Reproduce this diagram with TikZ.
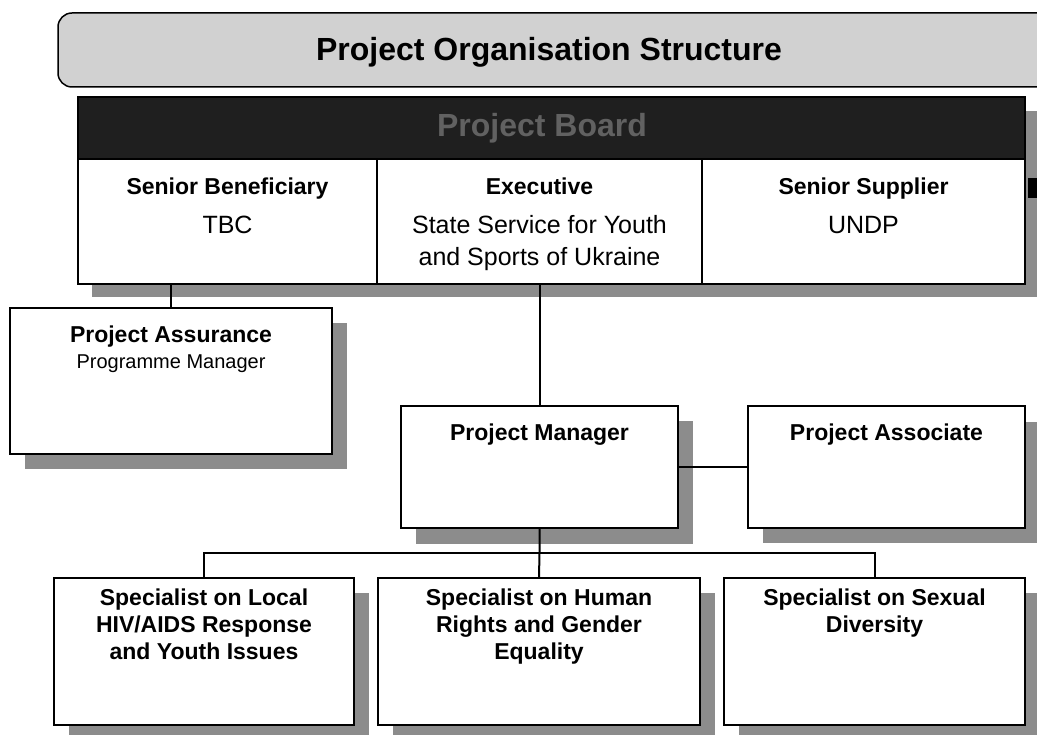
\documentclass[tikz,border=0pt]{standalone}
\usepackage{fontspec}
\setmainfont{Liberation Sans}
\usetikzlibrary{calc}
\tikzset{
  box/.style={draw=black, line width=2pt, fill=white, inner sep=0pt, outer sep=0pt, anchor=north west},
  shade/.style={fill=black!45},
  conn/.style={line width=2pt},
  hd/.style={font=\fontsize{23}{27}\selectfont\bfseries, inner sep=0pt, align=center},
  sub/.style={font=\fontsize{25}{31}\selectfont, inner sep=0pt, anchor=base},
  big/.style={font=\fontsize{32}{36}\selectfont\bfseries, inner sep=0pt, anchor=base},
}
\begin{document}
\begin{tikzpicture}[x=1pt,y=-1pt]
\useasboundingbox (0,0) rectangle (1037,735);
\clip (0,0) rectangle (1037,735);
% title
\draw[fill=black!18, line width=1.5pt, rounded corners=14pt] (58,13) rectangle (1080,87);
\node[big] (title) at (549,61) {Project Organisation Structure};
% board
\fill[shade] (92,111) rectangle (1045,297);
\node[box, fill=black!88, minimum width=947pt, minimum height=62pt] (bar) at (78,97) {};
\node[big, text=black!62] (bart) at (542,137) {Project Board};
\node[box, minimum width=299pt, minimum height=125pt] (sb) at (78,159) {};
\node[box, minimum width=325pt, minimum height=125pt] (ex) at (377,159) {};
\node[box, minimum width=323pt, minimum height=125pt] (ss) at (702,159) {};
\fill (1028,178) rectangle (1037,198);
% other shadows
\fill[shade] (25,323) rectangle (347,469);
\fill[shade] (416,421) rectangle (693,544);
\fill[shade] (763,422) rectangle (1040,543);
\fill[shade] (69,593) rectangle (369,740);
\fill[shade] (393,593) rectangle (715,740);
\fill[shade] (739,593) rectangle (1040,740);
% boxes
\node[box, minimum width=322pt, minimum height=146pt] (pa) at (10,308) {};
\node[box, minimum width=277pt, minimum height=122pt] (pm) at (401,406) {};
\node[box, minimum width=277pt, minimum height=122pt] (pas) at (748,406) {};
\node[box, minimum width=300pt, minimum height=147pt] (s1) at (54,578) {};
\node[box, minimum width=322pt, minimum height=147pt] (s2) at (378,578) {};
\node[box, minimum width=301pt, minimum height=147pt] (s3) at (724,578) {};
% connectors
\coordinate (bus) at (540,553);
\draw[conn] (pa.north |- sb.south) -- (pa.north);
\draw[conn] (ex.south) -- (pm.north);
\draw[conn] (pm.east) -- (pas.west);
\draw[conn] (pm.south) -- (pm.south |- bus) -- (s2.north);
\draw[conn] (s1.north) -- (s1.north |- bus) -- (s3.north |- bus) -- (s3.north);
% texts
\node[hd, anchor=base] (sbh) at (227.5,195) {Senior Beneficiary};
\node[sub] (sbs) at (227.5,234) {TBC};
\node[hd, anchor=base] (exh) at (539.5,195) {Executive};
\node[sub] (exs1) at (539.5,234) {State Service for Youth};
\node[sub] (exs2) at (539.5,266) {and Sports of Ukraine};
\node[hd, anchor=base] (ssh) at (863.5,195) {Senior Supplier};
\node[sub] (sss) at (863.5,234) {UNDP};
\node[hd, anchor=base] (pah) at (171,343) {Project Assurance};
\node[font=\fontsize{20}{24}\selectfont, inner sep=0pt, anchor=base] (pasub) at (171,369) {Programme Manager};
\node[hd, anchor=base] (pmh) at (539.5,440) {Project Manager};
\node[hd, anchor=base] (pash) at (886.5,440) {Project Associate};
\node[hd, anchor=north] (s1t) at (204,589) {Specialist on Local\\HIV/AIDS Response\\and Youth Issues};
\node[hd, anchor=north] (s2t) at (539,589) {Specialist on Human\\Rights and Gender\\Equality};
\node[hd, anchor=north] (s3t) at (874.5,589) {Specialist on Sexual\\Diversity};
\end{tikzpicture}
\end{document}
